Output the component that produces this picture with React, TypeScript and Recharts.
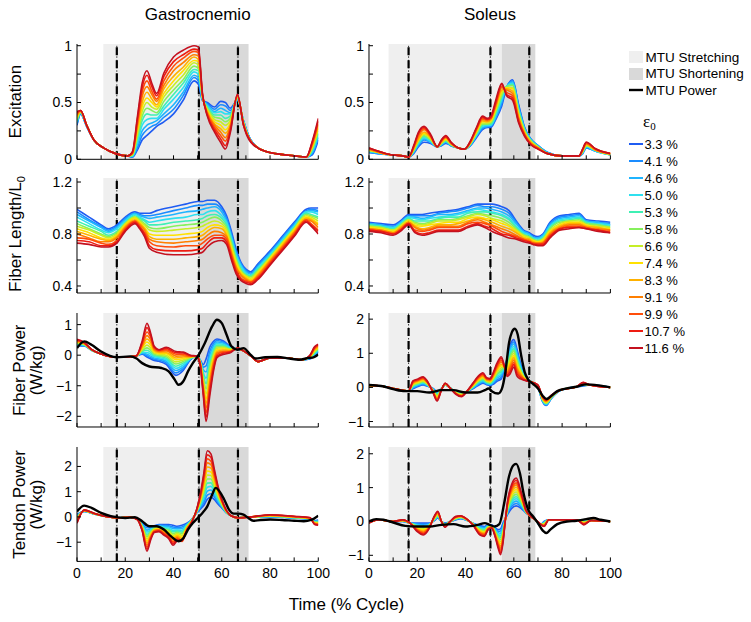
import React from 'react';
import { LineChart, Line, XAxis, YAxis, ReferenceArea, ReferenceLine } from 'recharts';

const FONT = '"Liberation Sans", Arial, Helvetica, sans-serif';

// ---------- legend / series ----------
const strainLabels = ['3.3 %', '4.1 %', '4.6 %', '5.0 %', '5.3 %', '5.8 %', '6.6 %', '7.4 %', '8.3 %', '9.1 %', '9.9 %', '10.7 %', '11.6 %'];
const strainColors = ['#1f5cf2', '#1a8cff', '#1fb4ff', '#2fe0ef', '#3ff0b4', '#86f05c', '#c6ee26', '#ffe100', '#ffb100', '#ff7f00', '#ff4d0a', '#ee1c12', '#c4111f'];
const timeTicks = [0, 10, 20, 30, 40, 50, 60, 70, 80, 90, 100];

// phases (x in % cycle)
const gasStretch = [10.9, 50.5];
const gasShorten = [50.5, 71.1];
const gasEvents = [16.5, 50.5, 66.7];
const solStretch = [8.1, 55];
const solShorten = [55, 68.9];
const solEvents = [16.4, 50.3, 66.4];

// ---------- Gastrocnemio excitation ----------
const gasExcT = [0, 1.5, 4, 7, 11, 16, 21, 23, 25, 27, 29, 31, 33, 36, 40, 44, 48.5, 50.3, 52, 54, 57, 59.5, 61.5, 63.5, 66.5, 69, 72, 78, 90, 95, 97.5, 100];
const gasExc = [
  [.30, .31, .32, .33, .34, .35, .36, .37, .38, .39, .40, .41, .42],
  [.40, .40, .41, .41, .41, .42, .42, .42, .42, .43, .43, .43, .43],
  [.29, .29, .29, .30, .30, .30, .30, .30, .30, .30, .30, .30, .30],
  [.17, .17, .17, .17, .17, .17, .17, .17, .17, .17, .17, .17, .17],
  [.10, .10, .10, .10, .10, .10, .10, .10, .10, .10, .10, .10, .10],
  [.05, .05, .05, .05, .05, .05, .05, .05, .05, .05, .05, .05, .05],
  [.03, .03, .03, .03, .03, .03, .03, .03, .03, .03, .03, .03, .03],
  [.02, .02, .03, .03, .03, .04, .04, .05, .05, .05, .06, .06, .07],
  [.08, .10, .13, .15, .18, .20, .23, .25, .27, .30, .32, .35, .37],
  [.17, .21, .25, .30, .34, .38, .42, .46, .50, .55, .59, .63, .67],
  [.21, .26, .30, .35, .40, .45, .50, .54, .59, .64, .69, .74, .78],
  [.25, .29, .32, .36, .39, .43, .46, .50, .53, .57, .60, .64, .67],
  [.29, .31, .34, .36, .39, .41, .44, .46, .48, .51, .53, .56, .58],
  [.33, .37, .40, .44, .47, .51, .55, .58, .62, .65, .69, .73, .76],
  [.40, .44, .48, .53, .57, .61, .65, .69, .73, .78, .82, .86, .90],
  [.52, .56, .59, .63, .67, .70, .74, .78, .81, .85, .89, .92, .96],
  [.69, .72, .74, .77, .79, .82, .85, .87, .90, .92, .95, .97, 1.0],
  [.66, .69, .72, .75, .78, .80, .83, .86, .88, .91, .94, .96, .99],
  [.52, .52, .53, .53, .54, .54, .55, .55, .56, .56, .57, .57, .58],
  [.50, .49, .48, .47, .46, .45, .44, .43, .42, .41, .40, .39, .38],
  [.46, .44, .42, .41, .39, .37, .35, .33, .31, .30, .28, .26, .24],
  [.51, .48, .45, .42, .39, .36, .33, .30, .27, .24, .21, .18, .15],
  [.50, .47, .43, .40, .36, .33, .30, .26, .23, .19, .16, .12, .09],
  [.45, .43, .41, .40, .38, .36, .34, .32, .30, .29, .27, .25, .23],
  [.52, .52, .53, .53, .54, .54, .55, .55, .55, .56, .56, .57, .57],
  [.34, .34, .33, .33, .33, .32, .32, .32, .31, .31, .31, .30, .30],
  [.17, .17, .17, .16, .16, .16, .16, .16, .16, .16, .16, .16, .15],
  [.07, .07, .07, .07, .07, .07, .07, .07, .07, .07, .07, .07, .07],
  [.03, .03, .03, .03, .03, .03, .03, .03, .03, .03, .03, .03, .03],
  [.02, .02, .02, .02, .02, .02, .02, .02, .02, .02, .02, .02, .02],
  [.04, .05, .06, .07, .08, .09, .10, .11, .12, .13, .14, .15, .16],
  [.17, .19, .20, .22, .23, .25, .27, .28, .30, .31, .33, .34, .36],
];

// ---------- Soleus excitation ----------
const solExcT = [0, 4, 9, 14, 16.4, 18.5, 20.5, 22.8, 25.5, 28.3, 30, 31.8, 34, 37, 39.6, 42, 44.5, 47, 49, 50.5, 52.5, 55, 57, 59.5, 62, 64.5, 67, 70, 74, 80, 87, 88.5, 90, 94, 100];
const solExc = [
  [.06, .06, .07, .07, .07, .08, .08, .08, .09, .09, .09, .10, .10],
  [.05, .05, .05, .06, .06, .06, .06, .06, .06, .06, .07, .07, .07],
  [.04, .04, .04, .04, .04, .04, .04, .04, .04, .04, .04, .04, .04],
  [.03, .03, .03, .03, .03, .03, .03, .03, .03, .03, .03, .03, .03],
  [.02, .02, .02, .02, .02, .02, .02, .02, .02, .02, .02, .02, .02],
  [.05, .06, .06, .07, .07, .08, .08, .09, .09, .10, .11, .11, .12],
  [.11, .12, .13, .14, .15, .16, .17, .17, .18, .20, .22, .23, .24],
  [.15, .17, .18, .19, .20, .21, .22, .23, .24, .26, .27, .28, .29],
  [.14, .15, .15, .16, .17, .17, .18, .19, .19, .20, .21, .21, .22],
  [.11, .11, .11, .11, .11, .11, .11, .11, .11, .11, .11, .11, .11],
  [.12, .12, .13, .13, .14, .14, .14, .15, .15, .16, .16, .17, .17],
  [.14, .15, .15, .16, .16, .17, .17, .18, .19, .19, .20, .20, .21],
  [.12, .12, .12, .13, .13, .13, .13, .14, .14, .14, .14, .15, .15],
  [.10, .10, .10, .10, .10, .10, .10, .10, .10, .10, .10, .10, .10],
  [.09, .09, .09, .09, .09, .09, .09, .09, .09, .09, .09, .09, .09],
  [.12, .12, .13, .13, .13, .14, .14, .14, .15, .15, .15, .16, .16],
  [.19, .20, .21, .21, .22, .23, .24, .24, .25, .26, .27, .27, .28],
  [.26, .27, .28, .29, .30, .31, .32, .33, .34, .35, .36, .37, .38],
  [.28, .29, .29, .30, .31, .31, .32, .33, .33, .34, .35, .35, .36],
  [.28, .29, .30, .30, .31, .32, .33, .34, .35, .36, .36, .37, .38],
  [.35, .36, .37, .39, .40, .42, .43, .45, .46, .47, .49, .50, .52],
  [.47, .49, .51, .53, .55, .56, .58, .60, .61, .63, .64, .66, .67],
  [.63, .64, .64, .64, .64, .64, .63, .63, .62, .61, .59, .57, .56],
  [.70, .69, .68, .67, .66, .65, .63, .62, .60, .58, .56, .54, .52],
  [.48, .47, .45, .44, .43, .41, .40, .39, .37, .36, .35, .33, .32],
  [.28, .27, .27, .26, .25, .25, .24, .23, .23, .22, .21, .21, .20],
  [.18, .18, .17, .17, .17, .16, .16, .15, .15, .14, .14, .13, .13],
  [.12, .12, .12, .11, .11, .11, .11, .10, .10, .10, .10, .09, .09],
  [.06, .06, .06, .05, .05, .05, .05, .05, .05, .05, .05, .05, .05],
  [.03, .03, .03, .03, .03, .03, .03, .03, .03, .03, .03, .03, .03],
  [.03, .03, .03, .03, .03, .03, .03, .03, .03, .03, .03, .03, .03],
  [.05, .05, .06, .06, .06, .07, .07, .07, .08, .08, .08, .09, .09],
  [.10, .10, .11, .11, .12, .12, .12, .13, .13, .14, .14, .15, .15],
  [.07, .07, .07, .07, .08, .08, .08, .08, .08, .08, .09, .09, .09],
  [.04, .04, .04, .04, .04, .04, .04, .05, .05, .05, .05, .05, .05],
];

// ---------- Gastrocnemio fiber length ----------
const gasLenT = [0, 5, 10, 13, 16.5, 20, 24, 26, 28, 30, 33, 40, 45, 50, 52, 54, 57, 60, 62, 64, 66, 68, 70, 72, 75, 80, 85, 90, 95, 97, 100];
const gasLen = [
  [.99, .97, .95, .93, .90, .88, .86, .84, .82, .80, .77, .75, .73],
  [.93, .91, .90, .88, .86, .84, .83, .81, .79, .77, .76, .74, .72],
  [.87, .86, .85, .83, .82, .80, .79, .77, .76, .74, .73, .71, .70],
  [.84, .83, .82, .81, .79, .78, .77, .76, .75, .74, .72, .71, .70],
  [.87, .86, .85, .84, .82, .81, .80, .79, .78, .77, .75, .74, .73],
  [.93, .92, .91, .90, .89, .88, .88, .87, .86, .85, .84, .83, .82],
  [.97, .96, .96, .95, .94, .93, .93, .92, .91, .90, .90, .89, .88],
  [.96, .95, .94, .93, .92, .91, .90, .89, .88, .87, .86, .85, .84],
  [.96, .94, .93, .91, .90, .88, .87, .85, .84, .83, .81, .80, .78],
  [.96, .94, .92, .89, .87, .85, .83, .80, .78, .76, .74, .71, .69],
  [.98, .95, .93, .90, .87, .84, .82, .79, .76, .74, .71, .68, .66],
  [1.01, .98, .95, .92, .89, .86, .83, .79, .76, .73, .70, .67, .64],
  [1.03, 1.00, .97, .93, .90, .87, .84, .80, .77, .74, .71, .67, .64],
  [1.05, 1.02, .98, .95, .91, .88, .85, .81, .78, .75, .71, .68, .65],
  [1.05, 1.02, .99, .95, .92, .89, .86, .82, .79, .76, .73, .69, .66],
  [1.06, 1.03, 1.00, .97, .94, .91, .88, .85, .82, .79, .76, .73, .70],
  [1.06, 1.03, 1.01, .98, .95, .93, .90, .87, .85, .82, .79, .77, .74],
  [1.01, .99, .97, .94, .92, .90, .88, .86, .84, .81, .79, .77, .75],
  [.94, .92, .90, .89, .87, .85, .83, .81, .79, .78, .76, .74, .72],
  [.82, .80, .78, .77, .75, .73, .71, .69, .67, .65, .64, .62, .60],
  [.68, .66, .65, .63, .62, .60, .59, .57, .55, .54, .52, .51, .49],
  [.58, .57, .56, .55, .53, .52, .51, .50, .49, .48, .46, .45, .44],
  [.53, .52, .51, .50, .49, .48, .48, .47, .46, .45, .44, .43, .42],
  [.51, .50, .49, .48, .48, .47, .46, .45, .44, .43, .43, .42, .41],
  [.57, .56, .55, .54, .53, .52, .51, .50, .49, .48, .47, .46, .45],
  [.67, .66, .65, .64, .63, .62, .62, .61, .60, .59, .58, .57, .56],
  [.78, .77, .76, .75, .74, .73, .73, .72, .71, .70, .69, .68, .67],
  [.89, .88, .87, .86, .85, .84, .84, .83, .82, .81, .80, .79, .78],
  [.99, .98, .97, .97, .96, .95, .94, .93, .92, .91, .91, .90, .89],
  [1.00, .99, .98, .97, .95, .94, .93, .92, .91, .90, .88, .87, .86],
  [1.00, .98, .97, .95, .93, .92, .90, .88, .87, .85, .83, .82, .80],
];

// ---------- Soleus fiber length ----------
const solLenT = [0, 5, 10, 13, 16.4, 19, 22, 25, 29, 33, 37, 41, 45, 48, 51, 55, 58, 61, 64, 66.4, 68, 70, 72, 75, 79, 83, 87, 90, 95, 100];
const solLen = [
  [.89, .88, .88, .87, .87, .86, .86, .85, .84, .84, .83, .83, .82],
  [.88, .87, .87, .86, .86, .85, .85, .84, .83, .83, .82, .82, .81],
  [.87, .86, .85, .85, .84, .83, .83, .82, .81, .81, .80, .80, .79],
  [.90, .89, .89, .88, .87, .87, .86, .85, .85, .84, .83, .83, .82],
  [.95, .94, .93, .93, .92, .91, .91, .90, .89, .89, .88, .88, .87],
  [.95, .94, .93, .92, .90, .89, .88, .87, .86, .85, .83, .82, .81],
  [.95, .94, .92, .91, .90, .88, .87, .86, .84, .83, .82, .80, .79],
  [.96, .94, .93, .92, .90, .89, .88, .87, .85, .84, .83, .81, .80],
  [.97, .96, .95, .93, .92, .91, .90, .88, .87, .86, .85, .83, .82],
  [.98, .97, .95, .94, .93, .91, .90, .89, .87, .86, .85, .83, .82],
  [.99, .98, .96, .95, .93, .92, .91, .89, .88, .86, .85, .83, .82],
  [1.01, 1.00, .98, .97, .96, .94, .93, .92, .90, .89, .88, .86, .85],
  [1.03, 1.02, 1.00, .99, .97, .96, .95, .93, .92, .91, .89, .88, .87],
  [1.03, 1.01, 1.00, .98, .97, .95, .94, .92, .91, .89, .88, .86, .85],
  [1.03, 1.01, .99, .97, .96, .94, .92, .91, .89, .87, .86, .84, .82],
  [1.01, .99, .97, .95, .94, .92, .90, .88, .86, .84, .82, .80, .79],
  [.98, .96, .94, .92, .91, .89, .87, .86, .84, .82, .80, .79, .77],
  [.90, .89, .88, .86, .85, .84, .83, .82, .81, .79, .78, .77, .76],
  [.83, .82, .82, .81, .80, .79, .79, .78, .77, .76, .76, .75, .74],
  [.81, .80, .80, .79, .78, .78, .77, .76, .76, .75, .74, .74, .73],
  [.79, .78, .77, .77, .76, .76, .75, .75, .74, .73, .73, .72, .72],
  [.78, .77, .77, .76, .75, .75, .74, .74, .73, .73, .72, .72, .71],
  [.80, .79, .79, .78, .77, .76, .76, .75, .74, .73, .73, .72, .71],
  [.89, .88, .87, .86, .85, .84, .83, .82, .81, .80, .79, .78, .77],
  [.94, .93, .92, .91, .90, .89, .88, .87, .86, .85, .84, .84, .83],
  [.95, .94, .93, .92, .91, .90, .90, .89, .88, .87, .86, .85, .84],
  [.96, .95, .94, .93, .92, .91, .90, .89, .88, .87, .86, .85, .85],
  [.91, .90, .90, .89, .89, .88, .87, .87, .86, .85, .85, .84, .84],
  [.90, .89, .89, .88, .87, .87, .86, .85, .85, .84, .83, .83, .82],
  [.89, .88, .87, .87, .86, .85, .85, .84, .83, .83, .82, .81, .81],
];

// ---------- Gastrocnemio fiber power ----------
const gasFibT = [0, 3, 6, 10, 16.4, 22, 24.5, 27, 29, 30.5, 32, 34, 37, 41, 44, 47, 49.5, 51, 52.3, 53.5, 55, 56.5, 58, 60.5, 63.5, 66.5, 69, 72, 75, 80, 88, 93, 96.5, 98.5, 100];
const gasFib = [
  [.30, .32, .34, .36, .37, .39, .41, .43, .45, .46, .48, .50, .52],
  [.30, .31, .32, .33, .34, .35, .36, .37, .38, .39, .40, .41, .42],
  [.16, .16, .17, .17, .17, .17, .18, .18, .18, .18, .19, .19, .19],
  [.04, .04, .04, .04, .04, .04, .04, .04, .04, .04, .04, .04, .04],
  [-.07, -.07, -.07, -.07, -.07, -.07, -.07, -.07, -.07, -.07, -.07, -.07, -.07],
  [-.05, -.05, -.05, -.05, -.05, -.05, -.05, -.05, -.05, -.05, -.05, -.05, -.05],
  [-.03, -.03, -.03, -.03, -.03, -.03, -.03, -.03, -.03, -.03, -.03, -.03, -.03],
  [.03, .05, .07, .09, .12, .15, .19, .23, .27, .31, .36, .41, .46],
  [-.06, -.02, .03, .09, .16, .24, .33, .43, .53, .64, .76, .90, 1.04],
  [-.12, -.08, -.03, .03, .09, .16, .24, .32, .41, .50, .59, .66, .73],
  [-.17, -.13, -.09, -.05, -.01, .03, .07, .11, .15, .19, .23, .26, .29],
  [-.20, -.16, -.12, -.08, -.04, -.01, .03, .06, .09, .12, .15, .17, .18],
  [-.30, -.25, -.20, -.15, -.10, -.05, .00, .05, .09, .14, .18, .22, .26],
  [-.66, -.58, -.50, -.43, -.36, -.29, -.22, -.15, -.09, -.03, .03, .08, .12],
  [-.50, -.44, -.38, -.32, -.26, -.21, -.16, -.11, -.06, -.02, .03, .07, .10],
  [-.15, -.14, -.12, -.11, -.10, -.09, -.07, -.06, -.05, -.04, -.03, -.01, .00],
  [-.03, -.03, -.03, -.03, -.03, -.03, -.03, -.03, -.03, -.03, -.03, -.03, -.03],
  [-.15, -.16, -.17, -.18, -.19, -.20, -.22, -.23, -.24, -.25, -.27, -.28, -.30],
  [-.31, -.39, -.47, -.56, -.64, -.72, -.80, -.88, -.96, -1.05, -1.13, -1.21, -1.29],
  [-.12, -.35, -.55, -.75, -.93, -1.10, -1.27, -1.43, -1.58, -1.73, -1.88, -2.03, -2.17],
  [.26, .12, -.02, -.15, -.28, -.41, -.54, -.67, -.80, -.93, -1.06, -1.20, -1.35],
  [.45, .37, .29, .21, .13, .05, -.04, -.12, -.20, -.28, -.37, -.46, -.55],
  [.53, .48, .43, .38, .33, .28, .23, .17, .12, .07, .02, -.03, -.08],
  [.47, .43, .40, .36, .32, .28, .25, .21, .17, .13, .10, .06, .02],
  [.29, .27, .26, .24, .22, .20, .19, .17, .15, .13, .12, .10, .08],
  [.21, .21, .21, .21, .21, .22, .22, .22, .22, .22, .23, .23, .23],
  [.14, .14, .14, .14, .14, .14, .14, .14, .14, .14, .14, .14, .14],
  [-.02, -.02, -.02, -.02, -.02, -.02, -.02, -.02, -.02, -.02, -.02, -.02, -.02],
  [-.21, -.21, -.21, -.21, -.21, -.21, -.21, -.21, -.21, -.21, -.21, -.21, -.21],
  [-.09, -.09, -.09, -.09, -.09, -.09, -.09, -.09, -.09, -.09, -.09, -.09, -.09],
  [-.10, -.10, -.10, -.10, -.10, -.10, -.10, -.10, -.10, -.10, -.10, -.10, -.10],
  [-.15, -.15, -.15, -.15, -.15, -.15, -.15, -.15, -.15, -.15, -.15, -.15, -.15],
  [-.12, -.11, -.10, -.09, -.08, -.07, -.06, -.05, -.04, -.03, -.02, -.01, .00],
  [-.02, .01, .03, .06, .08, .11, .13, .16, .18, .21, .23, .26, .28],
  [.10, .12, .14, .17, .19, .21, .23, .25, .27, .30, .32, .34, .36],
];
const gasFibMtuT = [0, 3, 6, 10, 16.4, 22, 24.5, 27, 30, 35, 38, 40.5, 42, 44, 46, 48, 50.5, 53, 56, 58, 60, 62, 64, 66.5, 69, 72, 74, 78, 83, 88, 92, 96, 98, 100];
const gasFibMtu = [.23, .45, .34, .12, -.07, -.04, -.10, -.26, -.37, -.42, -.53, -.80, -.97, -.86, -.53, -.26, .02, .40, .94, 1.16, 1.05, .67, .29, .18, .23, .01, -.11, -.07, -.06, -.11, -.15, -.09, -.07, .02];

// ---------- Soleus fiber power ----------
const solFibT = [0, 5, 10, 16.4, 18.2, 20.3, 22.4, 24, 26.5, 28.2, 30, 31.6, 33.5, 36, 38.3, 40.5, 43, 45, 47.2, 48.8, 50.2, 51.6, 53, 54.8, 56, 57.2, 58.5, 60, 61.3, 62.7, 64.2, 66, 68, 70, 71.8, 73.4, 75.5, 79, 86, 88.7, 91.5, 100];
const solFib = [
  [.03, .03, .04, .04, .04, .05, .05, .05, .05, .06, .06, .07, .07],
  [.04, .04, .04, .04, .04, .04, .04, .04, .04, .04, .04, .04, .04],
  [-.03, -.03, -.03, -.03, -.03, -.03, -.03, -.03, -.03, -.03, -.03, -.03, -.03],
  [-.10, -.10, -.10, -.10, -.10, -.10, -.10, -.10, -.10, -.10, -.10, -.10, -.10],
  [-.04, -.02, .00, .02, .04, .06, .08, .10, .11, .13, .15, .17, .19],
  [.03, .05, .07, .09, .10, .12, .14, .16, .18, .20, .21, .23, .25],
  [.07, .09, .11, .13, .15, .17, .19, .21, .23, .25, .27, .29, .31],
  [.04, .05, .07, .08, .09, .11, .12, .13, .15, .16, .17, .19, .20],
  [-.03, -.04, -.05, -.06, -.07, -.08, -.09, -.10, -.11, -.12, -.13, -.14, -.15],
  [-.12, -.14, -.17, -.19, -.21, -.24, -.26, -.28, -.31, -.33, -.35, -.38, -.40],
  [-.03, -.03, -.04, -.04, -.05, -.05, -.05, -.06, -.06, -.07, -.07, -.08, -.08],
  [.07, .07, .08, .08, .09, .09, .09, .10, .10, .11, .11, .12, .12],
  [-.01, -.01, -.01, -.01, -.01, -.01, -.01, -.01, -.01, -.01, -.01, -.01, -.01],
  [-.12, -.13, -.13, -.14, -.14, -.15, -.16, -.16, -.17, -.18, -.18, -.19, -.20],
  [-.15, -.16, -.17, -.18, -.19, -.20, -.21, -.22, -.23, -.24, -.25, -.26, -.27],
  [-.12, -.12, -.12, -.12, -.12, -.12, -.12, -.12, -.12, -.12, -.12, -.12, -.12],
  [-.04, -.03, -.01, .00, .01, .03, .04, .05, .07, .08, .09, .11, .12],
  [.05, .07, .09, .12, .14, .16, .18, .20, .22, .25, .27, .29, .31],
  [.12, .15, .17, .20, .22, .25, .28, .30, .33, .35, .38, .40, .43],
  [.08, .10, .11, .13, .15, .16, .18, .20, .21, .23, .25, .26, .28],
  [.05, .07, .09, .10, .12, .14, .16, .17, .19, .21, .23, .24, .26],
  [.10, .13, .16, .19, .22, .25, .28, .31, .34, .37, .40, .43, .46],
  [.18, .22, .27, .31, .36, .40, .45, .49, .53, .58, .62, .67, .71],
  [.25, .30, .36, .41, .47, .52, .58, .63, .68, .74, .79, .85, .90],
  [.55, .56, .57, .58, .58, .59, .60, .61, .62, .62, .63, .64, .65],
  [.85, .81, .76, .72, .67, .63, .59, .54, .50, .45, .41, .36, .32],
  [1.25, 1.18, 1.11, 1.04, .97, .90, .83, .75, .68, .61, .54, .47, .40],
  [1.40, 1.33, 1.27, 1.20, 1.13, 1.07, 1.00, .93, .87, .80, .73, .67, .60],
  [1.12, 1.05, .99, .92, .86, .79, .73, .66, .59, .53, .46, .40, .33],
  [.72, .68, .64, .60, .56, .52, .49, .45, .41, .37, .33, .29, .25],
  [.38, .37, .35, .34, .32, .31, .30, .28, .27, .25, .24, .22, .21],
  [.22, .22, .21, .21, .21, .20, .20, .20, .19, .19, .19, .18, .18],
  [.14, .14, .14, .14, .14, .14, .14, .14, .14, .14, .14, .14, .14],
  [.00, .01, .01, .02, .02, .03, .04, .04, .05, .05, .06, .06, .07],
  [-.40, -.39, -.38, -.36, -.35, -.34, -.33, -.31, -.30, -.29, -.28, -.26, -.25],
  [-.53, -.52, -.50, -.49, -.47, -.46, -.45, -.43, -.42, -.40, -.39, -.37, -.36],
  [-.33, -.32, -.31, -.31, -.30, -.29, -.28, -.27, -.26, -.26, -.25, -.24, -.23],
  [-.10, -.10, -.09, -.09, -.09, -.09, -.08, -.08, -.08, -.08, -.08, -.08, -.08],
  [.02, .02, .02, .02, .02, .02, .02, .02, .02, .02, .02, .02, .02],
  [.04, .05, .06, .07, .08, .09, .10, .10, .11, .12, .13, .14, .15],
  [.07, .07, .07, .07, .07, .07, .07, .07, .07, .07, .07, .07, .07],
  [.00, .00, .00, .00, .00, .00, .00, .00, .00, .00, .00, .00, .00],
];
const solFibMtuT = [0, 5, 10, 15, 20, 25, 30, 35, 40, 45, 48, 49.5, 51, 53.5, 55, 56.5, 58, 59.2, 60.4, 61.6, 63, 64.5, 66, 68, 70, 72, 73.5, 75, 78, 82, 86, 90, 95, 100];
const solFibMtu = [.07, .04, -.05, -.11, -.11, -.15, -.08, -.08, -.15, -.15, -.08, -.03, -.12, -.18, -.05, .45, 1.30, 1.62, 1.72, 1.55, .95, .45, .22, .10, -.03, -.25, -.34, -.28, -.11, -.03, .02, .09, .06, .00];

// ---------- Gastrocnemio tendon power ----------
const gasTenT = [0, 3, 7, 12, 17, 22, 25, 27, 29, 30.5, 32, 34, 36, 38, 39.8, 41.5, 43.5, 45.5, 47.5, 49.5, 51, 52.5, 54, 55.5, 57, 58.5, 60, 62, 64, 67, 72, 80, 90, 96.5, 98.5, 100];
const gasTen = [
  [.10, .07, .04, .01, -.02, -.05, -.08, -.10, -.13, -.16, -.19, -.22, -.25],
  [.22, .22, .23, .23, .24, .24, .25, .25, .26, .26, .27, .27, .28],
  [.12, .12, .12, .13, .13, .13, .13, .14, .14, .14, .14, .15, .15],
  [.02, .02, .02, .02, .02, .02, .02, .02, .02, .02, .02, .02, .02],
  [-.03, -.03, -.03, -.03, -.03, -.03, -.03, -.03, -.03, -.03, -.03, -.03, -.03],
  [-.01, -.01, -.01, -.01, -.01, -.01, -.01, -.01, -.01, -.01, -.01, -.01, -.01],
  [-.08, -.08, -.08, -.08, -.09, -.09, -.09, -.09, -.09, -.10, -.10, -.10, -.10],
  [-.25, -.28, -.30, -.33, -.35, -.38, -.40, -.43, -.45, -.48, -.50, -.53, -.55],
  [-.35, -.43, -.52, -.60, -.69, -.77, -.86, -.94, -1.02, -1.11, -1.19, -1.28, -1.36],
  [-.37, -.42, -.46, -.51, -.55, -.60, -.65, -.69, -.74, -.78, -.83, -.87, -.92],
  [-.35, -.37, -.40, -.42, -.44, -.46, -.49, -.51, -.53, -.55, -.58, -.60, -.62],
  [-.30, -.32, -.35, -.37, -.39, -.42, -.44, -.46, -.49, -.51, -.53, -.56, -.58],
  [-.30, -.34, -.37, -.41, -.44, -.48, -.51, -.55, -.58, -.62, -.65, -.69, -.72],
  [-.30, -.35, -.39, -.44, -.49, -.53, -.58, -.63, -.67, -.72, -.77, -.81, -.86],
  [-.33, -.40, -.46, -.53, -.59, -.66, -.73, -.79, -.86, -.92, -.99, -1.05, -1.12],
  [-.37, -.42, -.47, -.52, -.56, -.61, -.66, -.71, -.76, -.81, -.85, -.90, -.95],
  [-.33, -.40, -.46, -.53, -.60, -.66, -.73, -.80, -.86, -.93, -.97, -.95, -.90],
  [-.25, -.28, -.30, -.33, -.35, -.38, -.40, -.43, -.45, -.48, -.50, -.53, -.55],
  [-.10, -.11, -.12, -.13, -.14, -.15, -.16, -.17, -.18, -.19, -.20, -.21, -.22],
  [.15, .16, .17, .18, .19, .20, .21, .22, .23, .24, .25, .26, .28],
  [.30, .35, .39, .44, .48, .53, .58, .62, .67, .71, .76, .80, .85],
  [.45, .55, .66, .76, .87, .97, 1.08, 1.18, 1.28, 1.39, 1.49, 1.60, 1.70],
  [.70, .86, 1.02, 1.18, 1.34, 1.50, 1.66, 1.82, 1.98, 2.14, 2.30, 2.46, 2.62],
  [.78, .92, 1.07, 1.21, 1.35, 1.50, 1.64, 1.78, 1.93, 2.07, 2.21, 2.36, 2.50],
  [.68, .78, .88, .97, 1.07, 1.17, 1.27, 1.36, 1.46, 1.56, 1.66, 1.75, 1.85],
  [.50, .56, .62, .68, .73, .79, .85, .91, .97, 1.03, 1.08, 1.14, 1.20],
  [.36, .39, .42, .45, .47, .50, .53, .56, .59, .62, .64, .67, .70],
  [.15, .16, .17, .17, .18, .19, .20, .21, .22, .23, .23, .24, .25],
  [.04, .04, .04, .04, .04, .04, .04, .04, .04, .04, .04, .04, .04],
  [-.03, -.03, -.03, -.03, -.03, -.03, -.03, -.03, -.03, -.03, -.03, -.03, -.03],
  [.00, .00, .00, .00, .00, .00, .00, .00, .00, .00, .00, .00, .00],
  [.00, .01, .02, .02, .03, .04, .04, .05, .06, .07, .07, .08, .09],
  [-.05, -.04, -.04, -.03, -.02, -.02, -.01, .00, .00, .01, .02, .02, .03],
  [-.10, -.09, -.09, -.08, -.07, -.07, -.06, -.05, -.05, -.04, -.03, -.03, -.02],
  [-.15, -.16, -.17, -.19, -.20, -.21, -.22, -.24, -.25, -.26, -.27, -.29, -.30],
  [-.12, -.14, -.16, -.17, -.19, -.21, -.23, -.24, -.26, -.28, -.30, -.31, -.33],
];
const gasTenMtuT = [0, 3, 6, 10, 14, 20, 24, 27, 30, 33, 36, 39, 42, 44, 46, 48, 50, 52, 54, 56, 57.5, 59, 61, 63, 65, 67, 69, 71, 73, 76, 80, 85, 90, 94, 97, 100];
const gasTenMtu = [.22, .45, .36, .16, .03, -.04, -.01, -.17, -.37, -.37, -.50, -.77, -.96, -.85, -.50, -.24, -.04, .16, .42, .88, 1.15, 1.02, .69, .29, .13, .13, .09, -.04, -.15, -.12, -.10, -.12, -.15, -.17, -.12, .05];

// ---------- Soleus tendon power ----------
const solTenT = [0, 4, 10, 14, 17, 20, 22.5, 25, 27, 28.5, 30, 31.5, 33.5, 36, 38, 40, 43, 46, 47.8, 49.3, 50.8, 52.2, 53.5, 54.5, 55.5, 56.5, 57.5, 59, 61, 63, 65, 67, 69, 70.8, 72.5, 74.5, 80, 86, 89, 92, 100];
const solTen = [
  [.00, .00, .00, -.01, -.01, -.02, -.02, -.03, -.03, -.04, -.04, -.05, -.05],
  [.05, .05, .05, .05, .05, .05, .05, .05, .05, .05, .05, .05, .05],
  [.00, .00, .00, .00, .00, .00, .00, .00, .00, .00, .00, .00, .00],
  [.00, .00, .01, .01, .02, .02, .03, .03, .03, .04, .04, .05, .05],
  [-.05, -.05, -.05, -.05, -.05, -.05, -.05, -.05, -.05, -.05, -.05, -.05, -.05],
  [-.05, -.07, -.09, -.11, -.13, -.15, -.17, -.20, -.22, -.24, -.26, -.28, -.30],
  [-.05, -.08, -.11, -.14, -.17, -.20, -.23, -.25, -.28, -.31, -.34, -.37, -.40],
  [-.05, -.06, -.08, -.09, -.10, -.11, -.12, -.14, -.15, -.16, -.17, -.19, -.20],
  [.02, .03, .04, .05, .06, .07, .08, .10, .11, .12, .13, .14, .15],
  [.10, .12, .13, .15, .17, .18, .20, .22, .23, .25, .27, .28, .30],
  [.00, .00, .00, .00, .00, .00, .00, .00, .00, .00, .00, .00, .00],
  [-.05, -.06, -.07, -.08, -.09, -.10, -.11, -.12, -.13, -.14, -.15, -.16, -.17],
  [-.01, -.01, -.01, -.01, -.01, -.01, -.01, -.01, -.01, -.01, -.01, -.01, -.01],
  [.05, .06, .07, .08, .08, .09, .10, .11, .12, .13, .13, .14, .15],
  [.08, .09, .10, .10, .11, .12, .13, .13, .14, .15, .16, .16, .17],
  [.05, .05, .06, .06, .07, .07, .08, .08, .08, .09, .09, .10, .10],
  [-.05, -.05, -.06, -.06, -.07, -.07, -.08, -.08, -.08, -.09, -.09, -.10, -.10],
  [-.12, -.14, -.17, -.19, -.21, -.24, -.26, -.28, -.31, -.33, -.35, -.38, -.40],
  [-.15, -.17, -.20, -.22, -.25, -.27, -.30, -.32, -.34, -.37, -.39, -.42, -.44],
  [-.10, -.11, -.13, -.14, -.15, -.16, -.18, -.19, -.20, -.21, -.23, -.24, -.25],
  [-.10, -.11, -.12, -.13, -.13, -.14, -.15, -.16, -.17, -.18, -.18, -.19, -.20],
  [-.18, -.20, -.22, -.25, -.27, -.29, -.31, -.33, -.35, -.38, -.40, -.42, -.44],
  [-.24, -.29, -.33, -.38, -.42, -.47, -.52, -.56, -.61, -.65, -.70, -.74, -.79],
  [-.22, -.28, -.35, -.41, -.47, -.54, -.60, -.66, -.73, -.79, -.85, -.92, -.98],
  [-.05, -.10, -.15, -.20, -.25, -.30, -.35, -.40, -.44, -.49, -.54, -.59, -.64],
  [.08, .08, .08, .07, .07, .07, .06, .06, .06, .06, .05, .05, .05],
  [.22, .26, .29, .33, .36, .40, .43, .47, .50, .54, .57, .61, .64],
  [.38, .44, .50, .56, .61, .67, .73, .79, .85, .91, .96, 1.02, 1.08],
  [.46, .53, .60, .67, .73, .80, .87, .94, 1.01, 1.08, 1.14, 1.21, 1.28],
  [.39, .43, .47, .51, .55, .59, .64, .68, .72, .76, .80, .84, .88],
  [.25, .26, .27, .27, .28, .29, .30, .30, .31, .32, .33, .33, .34],
  [.15, .15, .15, .15, .15, .15, .15, .15, .15, .15, .15, .15, .15],
  [.05, .05, .05, .05, .05, .05, .05, .05, .05, .05, .05, .05, .05],
  [-.12, -.12, -.11, -.11, -.10, -.10, -.09, -.09, -.08, -.08, -.07, -.07, -.06],
  [.00, -.01, -.03, -.04, -.05, -.06, -.08, -.09, -.10, -.11, -.13, -.14, -.15],
  [.05, .05, .05, .05, .05, .05, .05, .05, .05, .05, .05, .05, .05],
  [.05, .05, .05, .05, .05, .05, .05, .05, .05, .05, .05, .05, .05],
  [.05, .05, .05, .05, .05, .05, .05, .05, .05, .05, .05, .05, .05],
  [.03, .02, .01, .00, -.01, -.02, -.03, -.04, -.05, -.06, -.07, -.08, -.10],
  [.03, .03, .03, .03, .03, .03, .03, .03, .03, .03, .03, .03, .03],
  [.00, .00, .00, .00, .00, .00, .00, .00, .00, .00, .00, .00, .00],
];
const solTenMtuT = [0, 3, 6, 10, 15, 20, 25, 30, 35, 40, 45, 48, 50, 52, 54, 56, 58, 60, 61, 62.5, 64, 66, 68, 70, 72, 73.5, 75, 78, 82, 86, 90, 93, 96, 100];
const solTenMtu = [.00, .07, .05, -.03, -.13, -.15, -.15, -.10, -.08, -.15, -.10, -.05, -.10, -.15, -.08, .54, 1.33, 1.67, 1.70, 1.43, .84, .34, .15, -.05, -.27, -.34, -.25, -.08, .00, .02, .07, .10, .05, .00];

// ---------- helpers ----------
function buildTable(ts: number[], rows: number[][]) {
  return ts.map((t, i) => {
    const o: Record<string, number> = { t };
    rows[i].forEach((v, k) => { o['s' + k] = v; });
    return o;
  });
}
function buildMtu(ts: number[], vs: number[]) {
  return ts.map((t, i) => ({ t, mtu: vs[i] }));
}
const fmtNum = (v: number) => (v < 0 ? '\u2212' + String(Math.abs(v)) : String(v));

type PanelProps = {
  left: number; top: number; w: number; h: number;
  domain: [number, number]; yTicks: number[]; yLabeled: number[];
  xLabels: boolean; ts: number[]; rows: number[][];
  mtuT?: number[]; mtuV?: number[];
  stretch: number[]; shorten: number[]; events: number[];
};

const tickStyle = { fontSize: 14, fill: '#000', fontFamily: FONT };

function Panel(p: PanelProps) {
  const data = buildTable(p.ts, p.rows);
  const mtu = p.mtuT && p.mtuV ? buildMtu(p.mtuT, p.mtuV) : null;
  const YW = 50;
  const RM = 24;
  return (
    <div style={{ position: 'absolute', left: p.left - YW, top: p.top - 5 }}>
      <LineChart width={YW + p.w + RM} height={5 + p.h + 30} data={data} margin={{ top: 5, right: RM, bottom: 0, left: 0 }}>
        <ReferenceArea x1={p.stretch[0]} x2={p.stretch[1]} fill="#efefef" fillOpacity={1} stroke="none" />
        <ReferenceArea x1={p.shorten[0]} x2={p.shorten[1]} fill="#d9d9d9" fillOpacity={1} stroke="none" />
        {p.events.map((x, i) => (
          <ReferenceLine key={'thin' + i} x={x} stroke="#000" strokeWidth={0.8} strokeDasharray="1.5 2" />
        ))}
        {p.events.map((x, i) => (
          <ReferenceLine key={'thick' + i} x={x} stroke="#000" strokeWidth={2.2} strokeDasharray="8 5" />
        ))}
        <XAxis
          type="number" dataKey="t" domain={[0, 100]} ticks={timeTicks} interval={0}
          allowDataOverflow height={30}
          tickFormatter={(v: number) => (p.xLabels && v % 20 === 0 ? String(v) : '')}
          tick={tickStyle} tickSize={-4} tickMargin={11}
          axisLine={{ stroke: '#000', strokeWidth: 1 }} tickLine={{ stroke: '#000' }}
        />
        <YAxis
          type="number" domain={p.domain} ticks={p.yTicks} interval={0} allowDataOverflow width={YW}
          tickFormatter={(v: number) => (p.yLabeled.some((l) => Math.abs(l - v) < 1e-6) ? fmtNum(v) : '')}
          tick={tickStyle} tickSize={-4} tickMargin={9}
          axisLine={{ stroke: '#000', strokeWidth: 1 }} tickLine={{ stroke: '#000' }}
        />
        {strainColors.map((c, k) => (
          <Line key={k} type="monotone" dataKey={'s' + k} stroke={c} strokeWidth={1.6}
            dot={false} activeDot={false} isAnimationActive={false} />
        ))}
        {mtu && (
          <Line data={mtu} type="monotone" dataKey="mtu" stroke="#000" strokeWidth={2.4}
            dot={false} activeDot={false} isAnimationActive={false} />
        )}
      </LineChart>
    </div>
  );
}

const gCol = { left: 77, w: 241.3 };
const sCol = { left: 369.3, w: 241.4 };
const rowPos = [
  { top: 44, h: 115.3 },
  { top: 178.3, h: 115 },
  { top: 313.3, h: 114 },
  { top: 447.3, h: 114.4 },
];

export default function App() {
  const g = { stretch: gasStretch, shorten: gasShorten, events: gasEvents };
  const s = { stretch: solStretch, shorten: solShorten, events: solEvents };
  return (
    <div style={{ position: 'absolute', left: 0, top: 0, width: 751, height: 622, background: '#fff', fontFamily: FONT }}>
      <svg width={751} height={622} style={{ position: 'absolute', left: 0, top: 0 }}>
        <g fontFamily={FONT} fill="#000">
          <text x={197.7} y={19.5} fontSize={17} textAnchor="middle">Gastrocnemio</text>
          <text x={490} y={19.5} fontSize={17} textAnchor="middle">Soleus</text>

          <text transform="translate(20.5,101.6) rotate(-90)" fontSize={17} textAnchor="middle">Excitation</text>
          <text transform="translate(20.5,234) rotate(-90)" fontSize={17} textAnchor="middle">
            Fiber Length/L<tspan fontSize={11} dy={4}>0</tspan>
          </text>
          <text transform="translate(24.5,370.3) rotate(-90)" fontSize={17} textAnchor="middle">Fiber Power</text>
          <text transform="translate(42,370.3) rotate(-90)" fontSize={17} textAnchor="middle">(W/kg)</text>
          <text transform="translate(24.5,504.5) rotate(-90)" fontSize={17} textAnchor="middle">Tendon Power</text>
          <text transform="translate(42,504.5) rotate(-90)" fontSize={17} textAnchor="middle">(W/kg)</text>

          <text x={346.5} y={610} fontSize={17} textAnchor="middle">Time (% Cycle)</text>

          <rect x={629} y={51} width={14} height={12} fill="#efefef" />
          <text x={645.5} y={61.7} fontSize={13.5}>MTU Stretching</text>
          <rect x={629} y={68} width={14} height={12} fill="#d9d9d9" />
          <text x={645.5} y={78.3} fontSize={13.5}>MTU Shortening</text>
          <line x1={629} x2={643} y1={90} y2={90} stroke="#000" strokeWidth={2.4} />
          <text x={645.5} y={95} fontSize={13.5}>MTU Power</text>

          <text x={643} y={127} fontSize={17} fontFamily='"Liberation Serif", "DejaVu Serif", serif'>
            ε<tspan fontSize={11} dy={3}>0</tspan>
          </text>
          {strainLabels.map((lab, i) => (
            <g key={lab}>
              <line x1={629} x2={643} y1={144 + 17 * i} y2={144 + 17 * i} stroke={strainColors[i]} strokeWidth={2} />
              <text x={644.5} y={148.5 + 17 * i} fontSize={13}>{lab}</text>
            </g>
          ))}
        </g>
      </svg>

      <Panel {...gCol} {...rowPos[0]} domain={[0, 1.015]} yTicks={[0, 0.25, 0.5, 0.75, 1]} yLabeled={[0, 0.5, 1]}
        xLabels={false} ts={gasExcT} rows={gasExc} {...g} />
      <Panel {...sCol} {...rowPos[0]} domain={[0, 1.015]} yTicks={[0, 0.25, 0.5, 0.75, 1]} yLabeled={[0, 0.5, 1]}
        xLabels={false} ts={solExcT} rows={solExc} {...s} />

      <Panel {...gCol} {...rowPos[1]} domain={[0.346, 1.231]} yTicks={[0.4, 0.6, 0.8, 1.0, 1.2]} yLabeled={[0.4, 0.8, 1.2]}
        xLabels={false} ts={gasLenT} rows={gasLen} {...g} />
      <Panel {...sCol} {...rowPos[1]} domain={[0.346, 1.231]} yTicks={[0.4, 0.6, 0.8, 1.0, 1.2]} yLabeled={[0.4, 0.8, 1.2]}
        xLabels={false} ts={solLenT} rows={solLen} {...s} />

      <Panel {...gCol} {...rowPos[2]} domain={[-2.35, 1.38]} yTicks={[-2, -1, 0, 1]} yLabeled={[-2, -1, 0, 1]}
        xLabels={false} ts={gasFibT} rows={gasFib} mtuT={gasFibMtuT} mtuV={gasFibMtu} {...g} />
      <Panel {...sCol} {...rowPos[2]} domain={[-1.16, 2.18]} yTicks={[-1, 0, 1, 2]} yLabeled={[-1, 0, 1, 2]}
        xLabels={false} ts={solFibT} rows={solFib} mtuT={solFibMtuT} mtuV={solFibMtu} {...s} />

      <Panel {...gCol} {...rowPos[3]} domain={[-1.76, 2.77]} yTicks={[-1, 0, 1, 2]} yLabeled={[-1, 0, 1, 2]}
        xLabels={true} ts={gasTenT} rows={gasTen} mtuT={gasTenMtuT} mtuV={gasTenMtu} {...g} />
      <Panel {...sCol} {...rowPos[3]} domain={[-1.18, 2.2]} yTicks={[-1, 0, 1, 2]} yLabeled={[-1, 0, 1, 2]}
        xLabels={true} ts={solTenT} rows={solTen} mtuT={solTenMtuT} mtuV={solTenMtu} {...s} />
    </div>
  );
}
